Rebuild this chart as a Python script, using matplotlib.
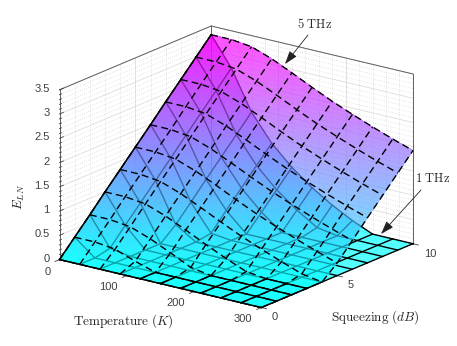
import numpy as np
import matplotlib
matplotlib.use("Agg")
import matplotlib.pyplot as plt
from matplotlib.patches import FancyArrowPatch
from mpl_toolkits.mplot3d import proj3d

plt.rcParams['font.family'] = ['Liberation Sans', 'DejaVu Sans']
plt.rcParams['mathtext.fontset'] = 'cm'

# Values
temperature = [0, 30, 60, 90, 120, 150, 180, 210, 240, 270, 300]
squeezing = [0, 1, 2, 3, 4, 5, 6, 7, 8, 9, 10]

# rows: squeezing, columns: temperature
eln_5thz = [
    [0.00, 0.00, 0.00, 0.00, 0.00, 0.00, 0.00, 0.00, 0.00, 0.00, 0.00],
    [0.33, 0.33, 0.28, 0.13, 0.00, 0.00, 0.00, 0.00, 0.00, 0.00, 0.00],
    [0.66, 0.66, 0.61, 0.46, 0.27, 0.07, 0.00, 0.00, 0.00, 0.00, 0.00],
    [1.00, 1.00, 0.95, 0.80, 0.61, 0.41, 0.22, 0.05, 0.00, 0.00, 0.00],
    [1.33, 1.33, 1.28, 1.13, 0.94, 0.74, 0.55, 0.38, 0.22, 0.07, 0.00],
    [1.66, 1.66, 1.61, 1.46, 1.27, 1.07, 0.88, 0.71, 0.55, 0.40, 0.26],
    [1.99, 1.99, 1.94, 1.79, 1.60, 1.40, 1.21, 1.04, 0.88, 0.73, 0.59],
    [2.33, 2.33, 2.28, 2.13, 1.94, 1.74, 1.55, 1.38, 1.22, 1.07, 0.93],
    [2.66, 2.66, 2.61, 2.46, 2.27, 2.07, 1.88, 1.71, 1.55, 1.40, 1.26],
    [2.99, 2.99, 2.94, 2.79, 2.60, 2.40, 2.21, 2.04, 1.88, 1.73, 1.59],
    [3.32, 3.32, 3.27, 3.12, 2.93, 2.73, 2.54, 2.37, 2.21, 2.06, 1.92],
]
eln_1thz = [
    [0.00, 0.00, 0.00, 0.00, 0.00, 0.00, 0.00, 0.00, 0.00, 0.00, 0.00],
    [0.33, 0.00, 0.00, 0.00, 0.00, 0.00, 0.00, 0.00, 0.00, 0.00, 0.00],
    [0.66, 0.07, 0.00, 0.00, 0.00, 0.00, 0.00, 0.00, 0.00, 0.00, 0.00],
    [1.00, 0.41, 0.00, 0.00, 0.00, 0.00, 0.00, 0.00, 0.00, 0.00, 0.00],
    [1.33, 0.74, 0.00, 0.00, 0.00, 0.00, 0.00, 0.00, 0.00, 0.00, 0.00],
    [1.66, 1.07, 0.26, 0.00, 0.00, 0.00, 0.00, 0.00, 0.00, 0.00, 0.00],
    [1.99, 1.40, 0.59, 0.05, 0.00, 0.00, 0.00, 0.00, 0.00, 0.00, 0.00],
    [2.33, 1.74, 0.93, 0.39, 0.00, 0.00, 0.00, 0.00, 0.00, 0.00, 0.00],
    [2.66, 2.07, 1.26, 0.72, 0.32, 0.00, 0.00, 0.00, 0.00, 0.00, 0.00],
    [2.99, 2.40, 1.59, 1.05, 0.65, 0.33, 0.07, 0.00, 0.00, 0.00, 0.00],
    [3.32, 2.73, 1.92, 1.38, 0.98, 0.66, 0.40, 0.18, 0.00, 0.00, 0.00],
]

temp_ticks = [0, 100, 200, 300]
squeeze_ticks = [0, 5, 10]
eln_ticks = [0, 0.5, 1, 1.5, 2, 2.5, 3, 3.5]
eln_tick_labels = ['0', '0.5', '1', '1.5', '2', '2.5', '3', '3.5']

T = np.array(temperature, dtype=float)
S = np.array(squeezing, dtype=float)
Z5 = np.array(eln_5thz)
Z1 = np.array(eln_1thz)
TMAX, SMAX, ZMAX = 300, 10, 3.5
GREY = '#404040'
FACE_ALPHA = 0.82


def fine_mesh(Z, n=6):
    # same bilinear facets, cut finer so the colour runs like shading interp
    tf = np.linspace(T[0], T[-1], (len(T) - 1) * n + 1)
    sf = np.linspace(S[0], S[-1], (len(S) - 1) * n + 1)
    rows = np.array([np.interp(tf, T, r) for r in Z])
    out = np.array([np.interp(sf, S, c) for c in rows.T]).T
    X, Y = np.meshgrid(tf, sf)
    return X, Y, out


def fade(image, dpi):
    # whole layer gets one alpha, so neighbouring facets do not double up
    image = image.copy()
    image[..., 3] *= FACE_ALPHA
    return image, 0, 0


W, H = 457, 346
fig = plt.figure(figsize=(W / 100, H / 100), dpi=100)
side = 387.6
cx, cy = 231, 172
ax = fig.add_axes([(cx - side / 2) / W, (H - cy - side / 2) / H, side / W, side / H],
                  projection='3d')
ax.set_proj_type('ortho')
ax.view_init(elev=18.44, azim=-53.07)
ax.set_box_aspect((1, 1, 0.709))
ax.computed_zorder = False
ax.set_axis_off()
ax.patch.set_visible(False)


def line3(xs, ys, zs, **kw):
    ax.plot(xs, ys, zs, **kw)


# back walls: grid
major_style = dict(color='#dcdcdc', lw=0.6, zorder=2)
minor_style = dict(color='#b0b0b0', lw=0.4, ls=(0, (1, 3)), zorder=1)
for v in np.arange(0, ZMAX + 0.01, 0.1):
    major = abs(v / 0.5 - round(v / 0.5)) < 1e-6
    style = major_style if major else minor_style
    line3([0, 0], [0, SMAX], [v, v], **style)
    line3([0, TMAX], [SMAX, SMAX], [v, v], **style)
for v in range(0, 11):
    line3([0, 0], [v, v], [0, ZMAX], **(major_style if v % 5 == 0 else minor_style))
for v in range(0, 301, 20):
    line3([v, v], [SMAX, SMAX], [0, ZMAX], **(major_style if v % 100 == 0 else minor_style))

# box edges
edge = dict(color='#606060', lw=0.7, zorder=3)
line3([0, 0], [0, SMAX], [ZMAX, ZMAX], **edge)
line3([0, TMAX], [SMAX, SMAX], [ZMAX, ZMAX], **edge)
line3([0, 0], [SMAX, SMAX], [0, ZMAX], **edge)
line3([TMAX, TMAX], [SMAX, SMAX], [0, ZMAX], **edge)
line3([0, 0], [0, 0], [0, ZMAX], **edge)

# z ticks
for v in np.arange(0, ZMAX + 0.01, 0.1):
    major = abs(v / 0.5 - round(v / 0.5)) < 1e-6
    line3([0, 0], [0, 0.25 if major else 0.12], [v, v], color=GREY, lw=0.6, zorder=3)
# x and y ticks
for v in temp_ticks:
    line3([v, v], [0, -0.3], [0, 0], color=GREY, lw=0.6, zorder=3)
for v in squeeze_ticks:
    line3([TMAX, TMAX + 8], [v, v], [0, 0], color=GREY, lw=0.6, zorder=3)

LW = 1.0

# 1 THz surface
X, Y, F = fine_mesh(Z1)
surf = ax.plot_surface(X, Y, F, cmap='cool', vmin=0, vmax=3.32, rstride=1, cstride=1,
                       linewidth=0, antialiased=False, zorder=4, shade=False)
surf.set_agg_filter(fade)
for i in range(len(S)):
    line3(T, np.full(len(T), S[i]), Z1[i], color='black', lw=LW, zorder=5)
for j in range(len(T)):
    line3(np.full(len(S), T[j]), S, Z1[:, j], color='black', lw=LW, zorder=5)

# 5 THz surface
X, Y, F = fine_mesh(Z5)
surf = ax.plot_surface(X, Y, F, cmap='cool', vmin=0, vmax=3.32, rstride=1, cstride=1,
                       linewidth=0, antialiased=False, zorder=6, shade=False)
surf.set_agg_filter(fade)

# where both surfaces coincide the solid mesh stays on top
for i in range(len(S)):
    for j in range(len(T) - 1):
        if Z1[i, j] == Z5[i, j] and Z1[i, j + 1] == Z5[i, j + 1]:
            line3(T[j:j + 2], [S[i], S[i]], Z1[i, j:j + 2], color='black', lw=LW, zorder=7)
for j in range(len(T)):
    for i in range(len(S) - 1):
        if Z1[i, j] == Z5[i, j] and Z1[i + 1, j] == Z5[i + 1, j]:
            line3([T[j], T[j]], S[i:i + 2], Z1[i:i + 2, j], color='black', lw=LW, zorder=7)

for i in range(len(S)):
    line3(T, np.full(len(T), S[i]), Z5[i], color='black', lw=LW, ls=(0, (5, 3)), zorder=8)
for j in range(len(T)):
    line3(np.full(len(S), T[j]), S, Z5[:, j], color='black', lw=LW, ls=(0, (5, 3)), zorder=8)

ax.set_xlim(0, TMAX, view_margin=0)
ax.set_ylim(0, SMAX, view_margin=0)
ax.set_zlim(0, ZMAX, view_margin=0)


def label3(x, y, z, s, **kw):
    # project once, then keep it as a plain 2D text of the axes
    x2, y2, _ = proj3d.proj_transform(x, y, z, ax.get_proj())
    ax.text2D(x2, y2, s, transform=ax.transData, fontsize=8, color=GREY, va='center', zorder=9, **kw)


for v in temp_ticks:
    label3(v + (9 if v == 0 else 0), -1.2, -0.07, str(v), ha='center')
for v in squeeze_ticks:
    label3(TMAX + 16, v, -0.15, str(v), ha='left')
for v, s in zip(eln_ticks, eln_tick_labels):
    label3(-15, 0, v - 0.03, s, ha='right')


def px(x, y):
    return x / W, 1 - y / H


TXT = '#262626'
fig.text(*px(123, 321), r'$\mathrm{Temperature}\ (K)$', ha='center', va='center', fontsize=9.5, color=TXT)
fig.text(*px(375, 317), r'$\mathrm{Squeezing}\ (dB)$', ha='center', va='center', fontsize=9.5, color=TXT)
fig.text(*px(19, 197), r'$E_{LN}$', ha='center', va='center', rotation=90, fontsize=9.5, color=TXT)
fig.text(*px(315, 24), r'$\mathrm{5\ THz}$', ha='center', va='center', fontsize=9, color=TXT)
fig.text(*px(433, 178), r'$\mathrm{1\ THz}$', ha='center', va='center', fontsize=9, color=TXT)

arrow = dict(arrowstyle='-|>,head_length=0.9,head_width=0.3', color='#222222', lw=0.6,
             shrinkA=0, shrinkB=0, mutation_scale=9)
for start, tip in [((308, 35), (285, 64)), ((421, 190), (381, 234))]:
    fig.add_artist(FancyArrowPatch(px(*start), px(*tip), transform=fig.transFigure, **arrow))

fig.savefig('out.png', dpi=100)
